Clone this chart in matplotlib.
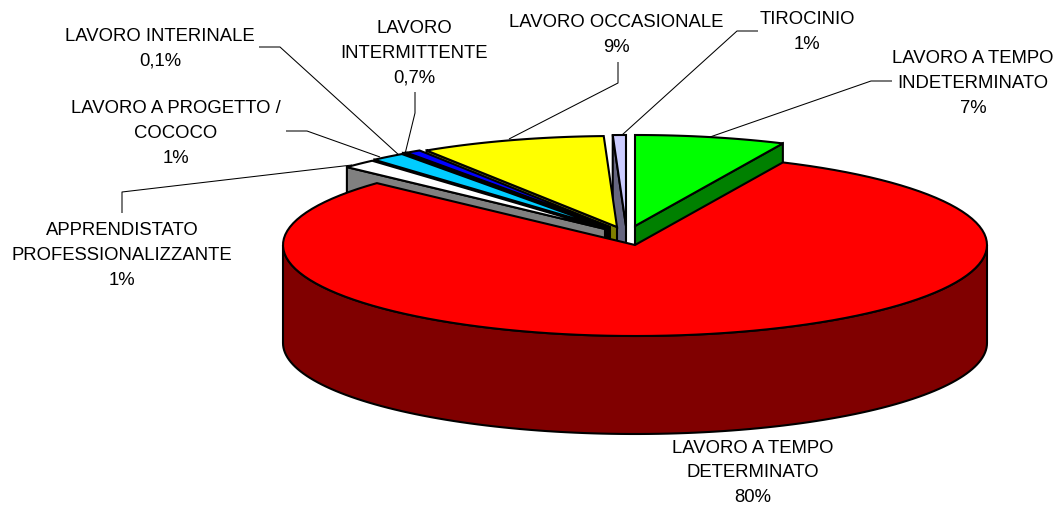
import numpy as np
import matplotlib
matplotlib.use("Agg")
import matplotlib.pyplot as plt
from matplotlib.patches import Polygon

plt.rcParams['font.family'] = ['Liberation Sans', 'DejaVu Sans']

categories = ["LAVORO A TEMPO\nINDETERMINATO", "LAVORO A TEMPO\nDETERMINATO",
              "APPRENDISTATO\nPROFESSIONALIZZANTE", "LAVORO A PROGETTO /\nCOCOCO",
              "LAVORO INTERINALE", "LAVORO\nINTERMITTENTE",
              "LAVORO OCCASIONALE", "TIROCINIO"]
values = [6.9, 80.0, 1.6, 1.6, 0.1, 0.7, 8.5, 0.6]
value_labels = ["7%", "80%", "1%", "1%", "0,1%", "0,7%", "9%", "1%"]

top_colors = ["#00FF00", "#FF0000", "#FFFFFF", "#00CCFF", "#800080", "#0000FF", "#FFFF00", "#CCCCFF"]
side_colors = ["#008000", "#800000", "#808080", "#006680", "#400040", "#000080", "#808000", "#666680"]
# explosion offsets of each slice from the pie centre, in pixels
offsets = [(0, -19), (0, 0), (-30, -16), (-28, -17), (-27, -18), (-25, -18), (-18, -18), (-9, -19)]
draw_order = [0, 7, 6, 5, 4, 3, 2, 1]

label_pos = [(973, 83.5), (753, 473), (122, 255.5), (176, 133.5), (160, 48.5), (414, 53), (616, 35), (807, 32)]
leaders = [[(892, 82), (871, 82), (710, 138)], [],
           [(122, 214), (122, 193), (352, 166)], [(286, 132), (307, 132), (380, 158)],
           [(259, 48), (280, 48), (400, 157)], [(415, 93), (415, 114), (405, 155)],
           [(618, 63), (618, 84), (509, 140)], [(758, 32), (737, 32), (622, 136)]]

CX, CY, A, B, DEPTH = 635, 246, 352, 91, 98

fig = plt.figure(figsize=(10.63, 5.06), dpi=100)
ax = fig.add_axes([0, 0, 1, 1])
ax.set_xlim(0, 1063)
ax.set_ylim(506, 0)
ax.axis('off')


def arc(cx, cy, t0, t1, n=120):
    t = np.radians(np.linspace(t0, t1, n))
    return np.column_stack([cx + A * np.cos(t), cy - B * np.sin(t)])


def face(points, color, z):
    ax.add_patch(Polygon(points, closed=True, facecolor=color, edgecolor='black',
                         linewidth=1.5, joinstyle='miter', zorder=z))


fractions = np.array(values) / sum(values) * 360
ends = 90 - np.cumsum(fractions)
starts = ends + fractions
down = np.array([0, DEPTH])

for z, i in enumerate(draw_order):
    cx, cy = CX + offsets[i][0], CY + offsets[i][1]
    apex = np.array([cx, cy])
    a = arc(cx, cy, ends[i], starts[i])
    if i == 1:
        # Large slice: front wall of the cylinder
        front = arc(cx, cy, 180, 360)
        face(np.vstack([front, (front + down)[::-1]]), side_colors[i], 2 * z + 2)
    else:
        mid = ((ends[i] + starts[i]) / 2) % 360
        edge = a[-1] if 90 < mid < 270 else a[0]
        face(np.vstack([apex, edge, edge + down, apex + down]), side_colors[i], 2 * z + 2)
    face(np.vstack([apex, a]), top_colors[i], 2 * z + 3)

for pts in leaders:
    if pts:
        p = np.array(pts)
        ax.plot(p[:, 0], p[:, 1], color='black', lw=0.75, zorder=1, solid_capstyle='butt')

for (x, y), c, v in zip(label_pos, categories, value_labels):
    ax.text(x, y, c + "\n" + v, ha='center', va='center', fontsize=13.3,
            color='black', linespacing=1.58, zorder=40)

fig.savefig("out.png", dpi=100)
